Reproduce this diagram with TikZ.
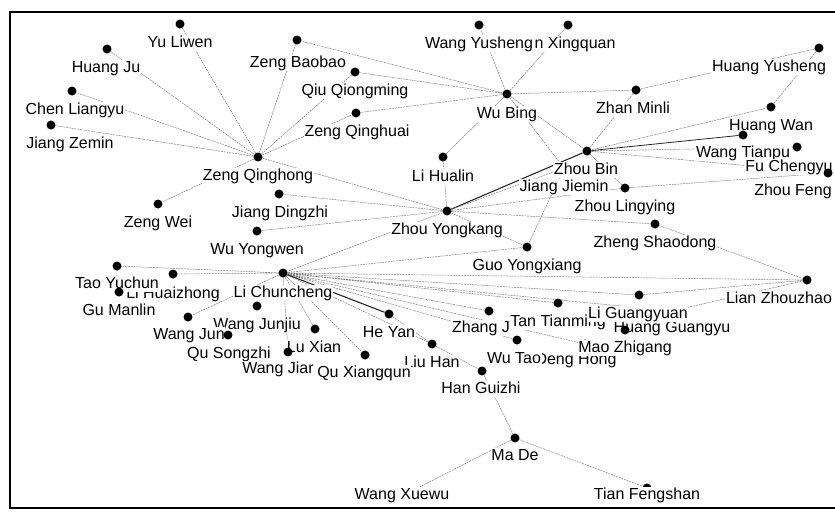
\documentclass[tikz,border=0pt]{standalone}
\usepackage{fontspec}
\setmainfont{Liberation Sans}
\usetikzlibrary{backgrounds}

\begin{document}
\begin{tikzpicture}[x=1pt,y=-1pt,
    dot/.style={circle,fill=black,inner sep=0pt,minimum size=9pt},
    tag/.style={fill=white,inner sep=0.6pt,text height=11pt,text depth=3pt,font=\fontsize{16}{18}\selectfont},
    tie/.style={black!50,line width=0.5pt,dash pattern=on 2pt off 0.8pt},
    bond/.style={black!85,line width=1.1pt}]
    \useasboundingbox (0,0) rectangle (835,512);
    % upper left: around Zeng Qinghong
    \node[dot] (yuliwen) at (180,24) {};    \node[tag] (yuliwen-t) at (180,43) {Yu Liwen};
    \node[dot] (huangju) at (107,49) {};    \node[tag] (huangju-t) at (106,68) {Huang Ju};
    \node[dot] (zengbb) at (297,40) {};     \node[tag] (zengbb-t) at (298,63) {Zeng Baobao};
    \node[dot] (qiuqm) at (355,72) {};      \node[tag] (qiuqm-t) at (355,91) {Qiu Qiongming};
    \node[dot] (chenly) at (72,91) {};      \node[tag] (chenly-t) at (75,110) {Chen Liangyu};
    \node[dot] (zengqhuai) at (356,113) {}; \node[tag] (zengqhuai-t) at (357,132) {Zeng Qinghuai};
    \node[dot] (jiangzm) at (51,125) {};    \node[tag] (jiangzm-t) at (70,144) {Jiang Zemin};
    \node[dot] (zengqh) at (258,157) {};    \node[tag] (zengqh-t) at (258,176) {Zeng Qinghong};
    % upper right: Wu Bing and Zhou Bin
    \node[dot] (xingquan) at (568,25) {};   \node[tag] (xingquan-t) at (575,44) {n Xingquan};
    \node[dot] (wangys) at (479,25) {};     \node[tag] (wangys-t) at (479,44) {Wang Yusheng};
    \node[dot] (wubing) at (507,94) {};     \node[tag] (wubing-t) at (507,114) {Wu Bing};
    \node[dot] (zhanml) at (636,90) {};     \node[tag] (zhanml-t) at (633,109) {Zhan Minli};
    \node[dot] (huangys) at (819,48) {};    \node[tag] (huangys-t) at (769,67) {Huang Yusheng};
    \node[dot] (huangwan) at (771,107) {};  \node[tag] (huangwan-t) at (771,126) {Huang Wan};
    \node[dot] (wangtp) at (743,135) {};    \node[tag] (wangtp-t) at (743,153) {Wang Tianpu};
    \node[dot] (fucy) at (797,147) {};      \node[tag] (fucy-t) at (789,167) {Fu Chengyu};
    \node[dot] (zhoufeng) at (828,173) {};  \node[tag] (zhoufeng-t) at (793,191) {Zhou Feng};
    \node[dot] (lihualin) at (443,157) {};  \node[tag] (lihualin-t) at (443,177) {Li Hualin};
    \node[dot] (jiangjm) at (564,168) {};   \node[tag] (jiangjm-t) at (564,187) {Jiang Jiemin};
    \node[dot] (zhoubin) at (587,151) {};   \node[tag] (zhoubin-t) at (586,170) {Zhou Bin};
    \node[dot] (zhouly) at (625,188) {};    \node[tag] (zhouly-t) at (625,207) {Zhou Lingying};
    \node[dot] (zhengsd) at (655,224) {};   \node[tag] (zhengsd-t) at (655,243) {Zheng Shaodong};
    \node[dot] (zhouyk) at (447,211) {};    \node[tag] (zhouyk-t) at (447,230) {Zhou Yongkang};
    \node[dot] (guoyx) at (527,247) {};     \node[tag] (guoyx-t) at (527,266) {Guo Yongxiang};
    \node[dot] (lianzz) at (807,280) {};    \node[tag] (lianzz-t) at (779,299) {Lian Zhouzhao};
    % left: Li Chuncheng
    \node[dot] (zengwei) at (158,204) {};   \node[tag] (zengwei-t) at (158,223) {Zeng Wei};
    \node[dot] (jiangdz) at (279,194) {};   \node[tag] (jiangdz-t) at (280,213) {Jiang Dingzhi};
    \node[dot] (wuyw) at (257,231) {};      \node[tag] (wuyw-t) at (257,250) {Wu Yongwen};
    \node[dot] (lihz) at (173,274) {};      \node[tag] (lihz-t) at (173,294) {Li Huaizhong};
    \node[dot] (taoyc) at (117,266) {};     \node[tag] (taoyc-t) at (117,284) {Tao Yuchun};
    \node[dot] (gumanlin) at (119,292) {};  \node[tag] (gumanlin-t) at (119,311) {Gu Manlin};
    \node[dot] (lichch) at (283,273) {};    \node[tag] (lichch-t) at (283,293) {Li Chuncheng};
    \node[dot] (wangjunjiu) at (257,306) {};\node[tag] (wangjunjiu-t) at (257,325) {Wang Junjiu};
    \node[dot] (wangjun) at (188,317) {};   \node[tag] (wangjun-t) at (189,335) {Wang Jun};
    \node[dot] (qusz) at (228,335) {};      \node[tag] (qusz-t) at (229,354) {Qu Songzhi};
    \node[dot] (luxian) at (315,329) {};    \node[tag] (luxian-t) at (314,348) {Lu Xian};
    \node[dot] (wangjian) at (288,352) {};  \node[tag] (wangjian-t) at (278,369) {Wang Jiar};
    \node[dot] (heyan) at (389,314) {};     \node[tag] (heyan-t) at (389,333) {He Yan};
    \node[dot] (liuhan) at (432,344) {};    \node[tag] (liuhan-t) at (432,363) {Liu Han};
    \node[dot] (quxq) at (365,355) {};      \node[tag] (quxq-t) at (364,373) {Qu Xiangqun};
    \node[dot] (hangz) at (482,371) {};     \node[tag] (hangz-t) at (481,389) {Han Guizhi};
    \node[dot] (made) at (515,438) {};      \node[tag] (made-t) at (515,456) {Ma De};
    \node[dot] (wangxw) at (410,492) {};    \node[tag] (wangxw-t) at (402,495) {Wang Xuewu};
    \node[dot] (tianfs) at (647,488) {};    \node[tag] (tianfs-t) at (647,495) {Tian Fengshan};
    % lower right
    \node[dot] (zhang) at (489,311) {};     \node[tag] (zhang-t) at (481,328) {Zhang J};
    \node[dot] (tantm) at (558,303) {};     \node[tag] (tantm-t) at (558,322) {Tan Tianming};
    \node[dot] (denghong) at (585,344) {};  \node[tag] (denghong-t) at (576,360) {Deng Hong};
    \node[dot] (wutao) at (517,340) {};     \node[tag] (wutao-t) at (514,359) {Wu Tao};
    \node[dot] (huanggy) at (672,311) {};   \node[tag] (huanggy-t) at (672,328) {Huang Guangyu};
    \node[dot] (ligy) at (639,295) {};      \node[tag] (ligy-t) at (638,314) {Li Guangyuan};
    \node[dot] (maozg) at (625,330) {};     \node[tag] (maozg-t) at (625,348) {Mao Zhigang};

    \begin{scope}[on background layer]
        \draw[tie] (zengqh) -- (yuliwen) (zengqh) -- (huangju) (zengqh) -- (chenly)
            (zengqh) -- (jiangzm) (zengqh) -- (zengbb) (zengqh) -- (qiuqm)
            (zengqh) -- (zengqhuai) (zengqh) -- (zengwei) (zengqh) -- (zhouyk);
        \draw[tie] (wubing) -- (zengbb) (wubing) -- (qiuqm) (wubing) -- (zengqhuai)
            (wubing) -- (wangys) (wubing) -- (xingquan) (wubing) -- (zhanml)
            (wubing) -- (lihualin) (wubing) -- (zhoubin) (wubing) -- (jiangjm);
        \draw[tie] (zhanml) -- (huangys) (zhanml) -- (zhoubin) (huangys) -- (huangwan);
        \draw[tie] (zhoubin) -- (huangwan) (zhoubin) -- (fucy) (zhoubin) -- (zhoufeng)
            (zhoubin) -- (zhouly) (zhouly) -- (zhoufeng);
        \draw[bond,line width=0.8pt] (zhoubin) -- (wangtp);
        \draw[bond] (zhoubin) -- (zhouyk);
        \draw[tie] (zhouyk) -- (jiangdz) (zhouyk) -- (wuyw) (zhouyk) -- (lichch)
            (zhouyk) -- (lihualin) (zhouyk) -- (jiangjm) (zhouyk) -- (zhengsd)
            (zhouyk) -- (guoyx) (zhouyk) -- (zhouly) (jiangjm) -- (guoyx);
        \draw[tie] (zhengsd) -- (lianzz) (ligy) -- (lianzz) (huanggy) -- (lianzz);
        \draw[tie] (lichch) -- (taoyc) (lichch) -- (lihz) (lichch) -- (wangjun)
            (lichch) -- (luxian) (lichch) -- (wangjian) (lichch) -- (quxq)
            (lichch) -- (liuhan) (lichch) -- (zhang) (lichch) -- (tantm)
            (lichch) -- (ligy) (lichch) -- (lianzz) (lichch) -- (guoyx)
            (lichch) -- (huanggy) (lichch) -- (denghong) (lichch) -- (wutao);
        \draw[bond] (lichch) -- (heyan);
        \draw[tie] (heyan) -- (liuhan) (liuhan) -- (hangz) (hangz) -- (made)
            (made) -- (wangxw) (made) -- (tianfs);
    \end{scope}

    % frame
    \draw[line width=2.5pt] (10,12) rectangle (850,508);
\end{tikzpicture}
\end{document}
